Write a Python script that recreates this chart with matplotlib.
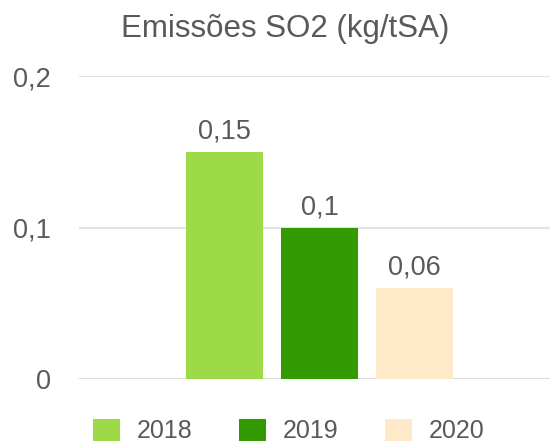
import matplotlib.pyplot as plt
from matplotlib.patches import Patch
import numpy as np

plt.rcParams.update({"font.family": ["Liberation Sans", "DejaVu Sans"]})

YEARS = ["2018", "2019", "2020"]
VALUES = [0.15, 0.10, 0.06]
LABELS = ["0,15", "0,1", "0,06"]
COLORS = ["#9ed947", "#349a02", "#fee9c8"]
YTICKS = [0, 0.1, 0.2]
YTICKLABELS = ["0", "0,1", "0,2"]

TXT = "#595959"
GRID = "#e3e3e3"

fig = plt.figure(figsize=(5.5, 4.45), dpi=100)
ax = fig.add_axes([79 / 550, 66 / 445, 471 / 550, 303 / 445])

x = np.arange(len(YEARS))
bars = ax.bar(x, VALUES, width=77 / 95, color=COLORS, zorder=3)
for b, lab in zip(bars, LABELS):
    ax.annotate(lab, (b.get_x() + b.get_width() / 2, b.get_height()),
                xytext=(0, 9.5), textcoords="offset points",
                ha="center", va="baseline", fontsize=19.5, color=TXT)

ax.set_xlim(-145.5 / 95, 325.5 / 95)
ax.set_ylim(0, 0.2)
ax.set_yticks(YTICKS)
ax.set_yticklabels(YTICKLABELS, fontsize=19.5, color=TXT)
ax.tick_params(axis="y", length=0, pad=20)
ax.set_xticks([])
ax.grid(axis="y", color=GRID, lw=1.5, zorder=0)
for s in ax.spines.values():
    s.set_visible(False)
ax.axhline(0, color="#dadada", lw=2, zorder=2)

fig.text(285 / 550, 1 - 29 / 445, "Emissões SO2 (kg/tSA)",
         ha="center", va="center", fontsize=22.5, color=TXT)

handles = [Patch(facecolor=c, label=y) for c, y in zip(COLORS, YEARS)]
fig.legend(handles=handles, ncol=3, frameon=False, loc="center left",
           bbox_to_anchor=(93 / 550, 14 / 445), borderpad=0, borderaxespad=0,
           fontsize=18, handlelength=1.08, handleheight=1.0,
           handletextpad=0.68, columnspacing=1.85, labelcolor=TXT)

fig.savefig("out.png", dpi=100)
